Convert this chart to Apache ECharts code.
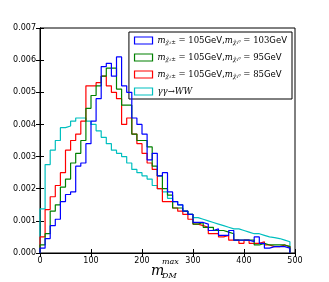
<!DOCTYPE html>
<html><head><meta charset="utf-8">
<script src="https://cdn.jsdelivr.net/npm/echarts@6/dist/echarts.min.js"></script>
<style>html,body{margin:0;padding:0;background:#fff}#c{width:329px;height:282px}</style>
</head><body><div id="c"></div>
<script>
// bin left edges: 0,10,...,480 (bin width 10)
const binWidth = 10;
const binStart = 0;
const blue103 = [0.00015,0.00045,0.00085,0.00105,0.0016,0.00182,0.0019,0.0027,0.0028,0.0034,
 0.0041,0.0048,0.0058,0.0059,0.0055,0.0061,0.0052,0.0050,0.0042,0.0040,
 0.0037,0.0029,0.0031,0.0024,0.0025,0.0019,0.0016,0.0015,0.0013,0.0012,
 0.00095,0.00095,0.0009,0.0007,0.00075,0.00055,0.00055,0.0007,0.0004,0.0004,
 0.0004,0.00035,0.0005,0.0003,0.00015,0.0002,0.0002,0.0002,0.00015];
const green95 = [0.00025,0.0006,0.0013,0.0015,0.00205,0.0023,0.0028,0.0031,0.0035,0.0045,
 0.0049,0.0052,0.0055,0.00575,0.00575,0.0051,0.0046,0.0046,0.0037,0.0035,
 0.0035,0.0033,0.0027,0.0024,0.0020,0.0018,0.0014,0.0014,0.0013,0.0012,
 0.0009,0.00095,0.0008,0.0008,0.0007,0.0007,0.00065,0.0006,0.0004,0.0004,
 0.0004,0.0004,0.00025,0.0003,0.00025,0.00025,0.00025,0.00025,0.0002];
const red85 = [0.0005,0.00135,0.00175,0.0021,0.0025,0.0032,0.0035,0.0037,0.0041,0.0052,
 0.0052,0.0053,0.0055,0.0052,0.0050,0.0048,0.0040,0.0042,0.0037,0.0034,
 0.0031,0.0028,0.0026,0.0020,0.0016,0.0016,0.0014,0.0013,0.0012,0.00105,
 0.0009,0.00085,0.0008,0.0006,0.0006,0.0005,0.00055,0.0004,0.0004,0.0003,
 0.0004,0.0003,0.0003,0.00035,0.00025,0.0002,0.0002,0.00025,0.0002];
const cyanWW = [0.00137,0.00275,0.0032,0.0035,0.0039,0.00395,0.0041,0.0042,0.0042,0.0041,
 0.0040,0.0038,0.0036,0.0034,0.0032,0.0031,0.0030,0.0028,0.0026,0.0025,
 0.0024,0.0023,0.0021,0.0020,0.0019,0.0017,0.0016,0.0015,0.0013,0.0012,
 0.0011,0.00105,0.0010,0.00095,0.0009,0.00085,0.0008,0.00075,0.00075,0.0007,
 0.00065,0.0006,0.0006,0.00055,0.0005,0.00048,0.00045,0.0004,0.00035];
const seriesNames = ['s103','s95','s85','sWW'];
const legendTexts = {
  s103: '{mi|m}{sub|χ̃₁±}{n| = 105}{t|GeV,}{mi|m}{sub|χ̃₁⁰}{n| = 103}{t|GeV}',
  s95:  '{mi|m}{sub|χ̃₁±}{n| = 105}{t|GeV,}{mi|m}{sub|χ̃₁⁰}{n| = 95}{t|GeV}',
  s85:  '{mi|m}{sub|χ̃₁±}{n| = 105}{t|GeV,}{mi|m}{sub|χ̃₁⁰}{n| = 85}{t|GeV}',
  sWW:  '{mi|γγ}{n|→}{mi|WW}'
};
const yTicks = ['0.000','0.001','0.002','0.003','0.004','0.005','0.006','0.007'];
const xTicks = ['0','100','200','300','400','500'];
const colors = ['#0000ff','#008000','#ff0000','#00bfbf'];

function toSteps(vals){
  const pts = [[binStart,0]];
  vals.forEach((v,i)=>pts.push([binStart+i*binWidth, v]));
  const end = binStart + vals.length*binWidth;
  pts.push([end, vals[vals.length-1]]);
  pts.push([end, 0]);
  return pts;
}
const allVals = [blue103, green95, red85, cyanWW];

const chart = echarts.init(document.getElementById('c'), null, {renderer:'canvas'});
const axisLine = {show:true, lineStyle:{color:'#000', width:1}};
const tickIn = {show:true, inside:true, length:4, lineStyle:{color:'#000'}};
const lab = {color:'#000', fontSize:8, fontFamily:'DejaVu Sans'};
chart.setOption({
  animation:false,
  color: colors,
  grid:{left:40, right:34, top:28, bottom:29, containLabel:false, outerBoundsMode:'none',
        show:true, borderColor:'#000', borderWidth:1},
  xAxis:[
    {type:'value', min:0, max:500, interval:100, axisLine, axisTick:tickIn,
     axisLabel:Object.assign({margin:4, formatter:(v)=>xTicks[v/100]}, lab), splitLine:{show:false}},
    {type:'value', position:'top', min:0, max:500, interval:100, axisLine, axisTick:tickIn,
     axisLabel:{show:false}, splitLine:{show:false}}
  ],
  yAxis:[
    {type:'value', min:0, max:0.007, interval:0.001, axisLine, axisTick:tickIn,
     axisLabel:Object.assign({margin:4, formatter:(v)=>yTicks[Math.round(v*1000)]}, lab), splitLine:{show:false},
     name:'Events (normalized)', nameLocation:'middle', nameGap:30,
     nameTextStyle:{fontSize:13, color:'#000', fontFamily:'DejaVu Sans'}},
    {type:'value', position:'right', min:0, max:0.007, interval:0.001, axisLine, axisTick:tickIn,
     axisLabel:{show:false}, splitLine:{show:false}}
  ],
  legend:{
    orient:'vertical', right:37, top:32, itemWidth:18, itemHeight:7, itemGap:7,
    padding:[4,5,3,5], backgroundColor:'#fff', borderColor:'#000', borderWidth:1,
    icon:'rect',
    data: seriesNames.map((n,i)=>({name:n, itemStyle:{color:'rgba(0,0,0,0)', borderColor:colors[i], borderWidth:1.2}})),
    formatter:(n)=>legendTexts[n],
    textStyle:{rich:{
      mi:{fontFamily:'DejaVu Serif', fontStyle:'italic', fontSize:8.5, color:'#000'},
      sub:{fontFamily:'DejaVu Serif', fontStyle:'italic', fontSize:5.5, color:'#000', padding:[5,0,0,0]},
      n:{fontFamily:'DejaVu Serif', fontSize:8.5, color:'#000'},
      t:{fontFamily:'DejaVu Sans', fontSize:8.5, color:'#000'}
    }}
  },
  graphic:[
    {type:'text', left:151, top:264, style:{text:'m', font:'italic 14px "DejaVu Serif"', fill:'#000'}},
    {type:'text', left:162, top:258, style:{text:'max', font:'italic 8px "DejaVu Serif"', fill:'#000'}},
    {type:'text', left:162, top:272, style:{text:'DM', font:'italic 8px "DejaVu Serif"', fill:'#000'}}
  ],
  series: allVals.map((vals,i)=>({
    name: seriesNames[i], type:'line', step:'end', showSymbol:false, symbol:'none',
    data: toSteps(vals), lineStyle:{width:1.2, color:colors[i]}, z: 4-i
  }))
});
</script></body></html>
